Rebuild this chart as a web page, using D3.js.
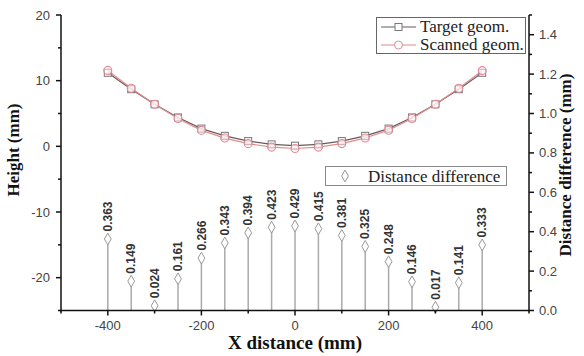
<!DOCTYPE html>
<html>
  <head>
    <meta charset="utf-8">
    <script src="https://d3js.org/d3.v7.min.js"></script>
    <style>
      body { margin: 0; background: #fff; }
      .tick-label { font-family: "Liberation Sans", Arial, sans-serif; font-size: 13px; fill: #444; }
      .axis-title { font-family: "Liberation Serif", "Times New Roman", serif; font-weight: bold; font-size: 17px; fill: #111; }
      .legend-text { font-family: "Liberation Serif", "Times New Roman", serif; font-size: 17px; fill: #222; }
      .stem-label { font-family: "Liberation Sans", Arial, sans-serif; font-weight: bold; font-size: 12px; fill: #333; }
    </style>
  </head>
<body>
  <script type="text/javascript">
    // x positions (mm)
    var xPos = [-400, -350, -300, -250, -200, -150, -100, -50, 0, 50, 100, 150, 200, 250, 300, 350, 400];
    // heights (mm)
    var targetH = [11.2, 8.7, 6.4, 4.4, 2.7, 1.6, 0.8, 0.3, 0.1, 0.3, 0.8, 1.6, 2.7, 4.4, 6.4, 8.7, 11.2];
    var scannedH = [11.56, 8.85, 6.42, 4.24, 2.43, 1.26, 0.41, -0.12, -0.33, -0.12, 0.42, 1.28, 2.45, 4.25, 6.41, 8.84, 11.53];
    // distance difference (mm), right axis
    var distDiff = [0.363, 0.149, 0.024, 0.161, 0.266, 0.343, 0.394, 0.423, 0.429, 0.415, 0.381, 0.325, 0.248, 0.146, 0.017, 0.141, 0.333];
    var xTicks = [-400, -200, 0, 200, 400];
    var yTicks = [-20, -10, 0, 10, 20];
    var y2Ticks = [0.0, 0.2, 0.4, 0.6, 0.8, 1.0, 1.2, 1.4];

    function draw() {
      "use strict";
      var width = 584, height = 356;
      var pl = 61, pr = 529, pt = 15, pb = 310.5;

      var svg = d3.select("body").append("svg")
          .attr("width", width)
          .attr("height", height);

      var x = d3.scaleLinear().domain([-500, 500]).range([pl, pr]);
      var y = d3.scaleLinear().domain([-25, 20]).range([pb, pt]);
      var y2 = d3.scaleLinear().domain([0, 1.5]).range([pb, pt]);

      /*
        Stems for distance difference
      */
      var stems = svg.append("g");
      stems.selectAll("line")
          .data(distDiff)
          .join("line")
          .attr("x1", function(d, i) { return x(xPos[i]); })
          .attr("x2", function(d, i) { return x(xPos[i]); })
          .attr("y1", y2(0))
          .attr("y2", function(d) { return y2(d) + 4; })
          .attr("stroke", "#aaa")
          .attr("stroke-width", 1.5);

      var diamond = d3.symbol().type(d3.symbolDiamond).size(40);
      stems.selectAll("path")
          .data(distDiff)
          .join("path")
          .attr("d", diamond)
          .attr("transform", function(d, i) { return "translate(" + x(xPos[i]) + "," + y2(d) + ")"; })
          .attr("fill", "#fff")
          .attr("stroke", "#999")
          .attr("stroke-width", 1);

      stems.selectAll("text")
          .data(distDiff)
          .join("text")
          .attr("class", "stem-label")
          .attr("transform", function(d, i) {
            return "translate(" + x(xPos[i]) + "," + (y2(d) - 7.5) + ") rotate(-90)";
          })
          .attr("dy", "0.35em")
          .text(function(d) { return d3.format(".3f")(d); });

      /*
        Geometry curves
      */
      var line = d3.line();
      svg.append("path")
          .attr("d", line(xPos.map(function(v, i) { return [x(v), y(targetH[i])]; })))
          .attr("fill", "none")
          .attr("stroke", "#6a5a5a")
          .attr("stroke-width", 1.2);
      svg.append("path")
          .attr("d", line(xPos.map(function(v, i) { return [x(v), y(scannedH[i])]; })))
          .attr("fill", "none")
          .attr("stroke", "#e48a8a")
          .attr("stroke-width", 1.2);

      svg.append("g").selectAll("rect")
          .data(targetH)
          .join("rect")
          .attr("x", function(d, i) { return x(xPos[i]) - 3.5; })
          .attr("y", function(d) { return y(d) - 3.5; })
          .attr("width", 7)
          .attr("height", 7)
          .attr("fill", "rgba(255,255,255,0.6)")
          .attr("stroke", "#777")
          .attr("stroke-width", 1);
      svg.append("g").selectAll("circle")
          .data(scannedH)
          .join("circle")
          .attr("cx", function(d, i) { return x(xPos[i]); })
          .attr("cy", function(d) { return y(d); })
          .attr("r", 4)
          .attr("fill", "rgba(255,240,240,0.5)")
          .attr("stroke", "#e28a98")
          .attr("stroke-width", 1.1);

      /*
        Axes
      */
      var ax = svg.append("g").attr("stroke", "#111").attr("stroke-width", 1.5);
      ax.append("line").attr("x1", pl).attr("x2", pl).attr("y1", pt).attr("y2", pb + 0.75);
      ax.append("line").attr("x1", pr).attr("x2", pr).attr("y1", pt).attr("y2", pb + 0.75);
      ax.append("line").attr("x1", pl - 0.75).attr("x2", pr + 0.75).attr("y1", pb).attr("y2", pb);

      // bottom ticks
      d3.range(-500, 501, 100).forEach(function(v) {
        var major = xTicks.indexOf(v) >= 0;
        ax.append("line").attr("x1", x(v)).attr("x2", x(v))
            .attr("y1", pb).attr("y2", pb + (major ? 5 : 3));
      });
      svg.append("g").selectAll("text")
          .data(xTicks)
          .join("text")
          .attr("class", "tick-label")
          .attr("x", function(d) { return x(d); })
          .attr("y", 330)
          .attr("text-anchor", "middle")
          .text(function(d) { return d; });

      // left ticks
      d3.range(-25, 21, 5).forEach(function(v) {
        var major = yTicks.indexOf(v) >= 0;
        ax.append("line").attr("x1", pl).attr("x2", pl - (major ? 5 : 3))
            .attr("y1", y(v)).attr("y2", y(v));
      });
      svg.append("g").selectAll("text")
          .data(yTicks)
          .join("text")
          .attr("class", "tick-label")
          .attr("x", pl - 11)
          .attr("y", function(d) { return y(d); })
          .attr("dy", "0.35em")
          .attr("text-anchor", "end")
          .text(function(d) { return d; });

      // right ticks
      d3.range(0, 16).forEach(function(k) {
        var v = k / 10;
        var major = k % 2 === 0;
        ax.append("line").attr("x1", pr).attr("x2", pr + (major ? 5 : 3))
            .attr("y1", y2(v)).attr("y2", y2(v));
      });
      svg.append("g").selectAll("text")
          .data(y2Ticks)
          .join("text")
          .attr("class", "tick-label")
          .attr("x", pr + 10)
          .attr("y", function(d) { return y2(d); })
          .attr("dy", "0.35em")
          .text(function(d) { return d3.format(".1f")(d); });

      // axis titles
      svg.append("text")
          .attr("class", "axis-title")
          .attr("x", 295)
          .attr("y", 349)
          .attr("text-anchor", "middle")
          .style("font-size", "19px")
          .text("X distance (mm)");
      svg.append("text")
          .attr("class", "axis-title")
          .attr("transform", "translate(19,150) rotate(-90)")
          .attr("text-anchor", "middle")
          .text("Height (mm)");
      svg.append("text")
          .attr("class", "axis-title")
          .attr("transform", "translate(571,165) rotate(-90)")
          .attr("text-anchor", "middle")
          .text("Distance difference (mm)");

      /*
        Legends
      */
      var lg1 = svg.append("g");
      lg1.append("rect")
          .attr("x", 376.5).attr("y", 17.5)
          .attr("width", 149).attr("height", 36)
          .attr("fill", "#fff").attr("stroke", "#666").attr("stroke-width", 1);
      lg1.append("line").attr("x1", 381).attr("x2", 416).attr("y1", 27).attr("y2", 27)
          .attr("stroke", "#6a5a5a").attr("stroke-width", 1);
      lg1.append("rect").attr("x", 395).attr("y", 23.5).attr("width", 7).attr("height", 7)
          .attr("fill", "#fff").attr("stroke", "#777");
      lg1.append("line").attr("x1", 381).attr("x2", 416).attr("y1", 45).attr("y2", 45)
          .attr("stroke", "#e48a8a").attr("stroke-width", 1);
      lg1.append("circle").attr("cx", 398.5).attr("cy", 45).attr("r", 4)
          .attr("fill", "#fff").attr("stroke", "#e28a98");
      lg1.append("text").attr("class", "legend-text").attr("x", 420).attr("y", 32).text("Target geom.");
      lg1.append("text").attr("class", "legend-text").attr("x", 420).attr("y", 50).text("Scanned geom.");

      var lg2 = svg.append("g");
      lg2.append("rect")
          .attr("x", 325.5).attr("y", 166.5)
          .attr("width", 181).attr("height", 19)
          .attr("fill", "#fff").attr("stroke", "#888").attr("stroke-width", 1);
      lg2.append("path").attr("d", diamond)
          .attr("transform", "translate(345,176)")
          .attr("fill", "#fff").attr("stroke", "#999");
      lg2.append("text").attr("class", "legend-text").attr("x", 368).attr("y", 181.5).text("Distance difference");
    }

    draw();
  </script>
</body>
</html>
